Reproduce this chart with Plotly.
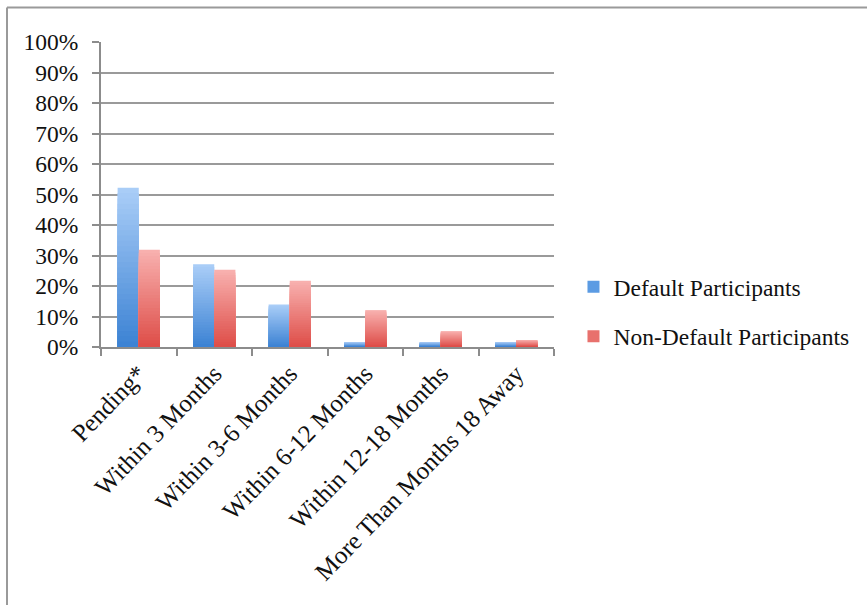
import plotly.graph_objects as go

# Share of participants by time until the event
categories = [
    "Pending*",
    "Within 3 Months",
    "Within 3-6 Months",
    "Within 6-12 Months",
    "Within 12-18 Months",
    "More Than Months 18 Away",
]
default_participants = [0.522, 0.271, 0.139, 0.016, 0.016, 0.016]
non_default_participants = [0.319, 0.253, 0.217, 0.121, 0.052, 0.023]
y_tick_values = [0, 0.1, 0.2, 0.3, 0.4, 0.5, 0.6, 0.7, 0.8, 0.9, 1.0]
y_tick_labels = ["0%", "10%", "20%", "30%", "40%", "50%", "60%", "70%", "80%", "90%", "100%"]

FONT = "Liberation Serif"
FS = 23.5
W, H = 867, 605
# plot area in pixels
PL, PR, PT, PB = 101, 554, 42, 347


def mix(c1, c2, t):
    a = [int(c1[i:i + 2], 16) for i in (1, 3, 5)]
    b = [int(c2[i:i + 2], 16) for i in (1, 3, 5)]
    return "rgb(%d,%d,%d)" % tuple(round(a[i] + (b[i] - a[i]) * t) for i in range(3))


series = [
    ("Default Participants", default_participants, "#a9cdf7", "#3d83d4", "#5b9be3", "d"),
    ("Non-Default Participants", non_default_participants, "#f8b0ae", "#de4e49", "#e8716d", "n"),
]

STEPS = 30
fig = go.Figure()
for name, values, top, bottom, legend_color, group in series:
    # vertical gradient: stacked-over bars, each shorter and darker
    for k in range(STEPS):
        frac = 1 - k / STEPS
        fig.add_trace(go.Bar(
            x=categories,
            y=[v * frac for v in values],
            name=name,
            offsetgroup=group,
            legendgroup=group,
            showlegend=False,
            marker=dict(color=mix(top, bottom, k / (STEPS - 1)), line=dict(width=0)),
            hoverinfo="skip",
        ))
    fig.add_trace(go.Bar(
        x=categories,
        y=[None] * len(categories),
        name=name,
        offsetgroup=group,
        legendgroup=group,
        showlegend=True,
        marker=dict(color=legend_color, line=dict(width=0)),
    ))

pw, ph = PR - PL, PB - PT
border_x = (7 - PL) / pw
border_y = 1 + (PT - 7.5) / ph

fig.update_layout(
    width=W,
    height=H,
    margin=dict(l=PL, r=W - PR, t=PT, b=H - PB),
    paper_bgcolor="white",
    plot_bgcolor="white",
    barmode="group",
    bargap=0.44,
    bargroupgap=0,
    font=dict(family=FONT, size=FS, color="#111111"),
    showlegend=True,
    legend=dict(
        x=1.043, y=0.115, xanchor="left", yanchor="middle",
        traceorder="grouped", tracegroupgap=16,
        itemwidth=30,
        font=dict(family=FONT, size=FS, color="#111111"),
        bgcolor="rgba(0,0,0,0)",
    ),
    xaxis=dict(
        type="category",
        tickangle=-46,
        showgrid=False,
        showline=True,
        linecolor="#8c8c8c",
        linewidth=2,
        ticks="outside",
        tickson="boundaries",
        ticklen=7,
        tickwidth=2,
        tickcolor="#8c8c8c",
        tickfont=dict(family=FONT, size=25, color="#111111"),
    ),
    yaxis=dict(
        range=[0, 1.0],
        tickvals=y_tick_values,
        ticktext=y_tick_labels,
        showgrid=True,
        gridcolor="#9a9a9a",
        gridwidth=2,
        zeroline=False,
        showline=True,
        linecolor="#8c8c8c",
        linewidth=2,
        ticks="outside",
        ticklen=7,
        tickwidth=2,
        tickcolor="#8c8c8c",
        ticklabelstandoff=9,
        tickfont=dict(family=FONT, size=FS, color="#111111"),
    ),
    shapes=[
        dict(type="line", xref="paper", yref="paper", x0=border_x, x1=(W + 5 - PL) / pw,
             y0=border_y, y1=border_y, line=dict(color="#9a9a9a", width=2)),
        dict(type="line", xref="paper", yref="paper", x0=border_x, x1=border_x,
             y0=border_y, y1=-(H + 5 - PB) / ph, line=dict(color="#9a9a9a", width=2)),
    ],
)

fig.write_html("out.html")
